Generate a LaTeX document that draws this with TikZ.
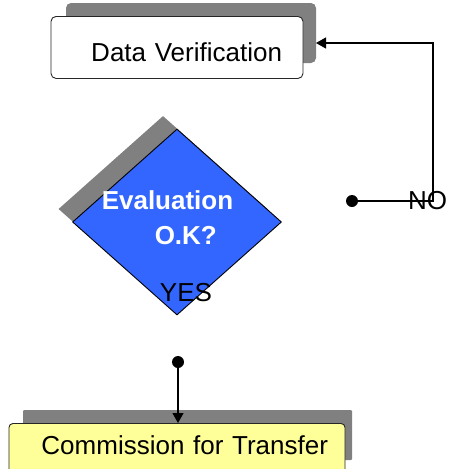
\documentclass[tikz,border=0pt]{standalone}
\usepackage{fontspec}
\setmainfont{Liberation Sans}
\usetikzlibrary{arrows.meta,shapes.geometric,positioning}
\definecolor{shadowgray}{RGB}{128,128,128}
\definecolor{evalblue}{RGB}{51,102,255}
\definecolor{boxyellow}{RGB}{255,255,153}
\tikzset{
    task/.style={
           rectangle,
           rounded corners=5pt,
           draw=black!85, line width=0.9pt,
           inner ysep=0pt,
           align=right,
           anchor=north,
           font=\fontsize{26}{30}\selectfont,
           },
    taskshadow/.style={
           rectangle,
           rounded corners=5pt,
           fill=shadowgray,
           inner sep=0pt,
           },
    decision/.style={
           diamond,
           draw=black, line width=0.9pt,
           fill=evalblue,
           minimum width=209pt,
           minimum height=186pt,
           inner sep=0pt,
           },
    decisionshadow/.style={
           diamond,
           fill=shadowgray,
           minimum width=209pt,
           minimum height=186pt,
           inner sep=0pt,
           },
    joint/.style={circle, fill=black, inner sep=0pt, minimum size=12pt},
    answer/.style={inner sep=0pt, font=\fontsize{26}{30}\selectfont},
    flow/.style={-{Triangle[length=10pt,width=11pt]}, line width=1.2pt},
}

\begin{document}
\begin{tikzpicture}[x=1pt,y=-1pt]
      \useasboundingbox (0,0) rectangle (448,469);
      \clip (0,0) rectangle (448,469);

      % SHADOWS (drawn first, behind the boxes)
      \node[taskshadow,
          minimum width=250pt,
          minimum height=60pt] (dvshadow) at (191,33) {};
      \node[decisionshadow] (evalshadow) at (163,209) {};
      \node[taskshadow,
          rounded corners=1pt,
          minimum width=329pt,
          minimum height=50pt] (ctshadow) at (187.5,435) {};

      % BOX DATA VERIFICATION
      \node[task,
          fill=white,
          text width=210pt,
          inner xsep=21pt,
          text height=45pt,
          text depth=17pt] (dvbox) at (177,16)
      {Data Verification};

      % DECISION EVALUATION
      \node[decision] (evalbox) at (177,222) {};
      \node[answer,
          align=left,
          text=white,
          font=\fontsize{26}{35}\selectfont\bfseries] (evaltext) at (167.5,217.5)
      {Evaluation\\\hspace*{53pt}O.K?};
      \node[answer] (yestext) at (186,293) {YES};

      % BOX COMMISSION FOR TRANSFER
      \node[task,
          fill=boxyellow,
          rounded corners=4pt,
          text width=302pt,
          inner xsep=17pt,
          text height=31pt,
          text depth=30pt] (ctbox) at (177,423)
      {Commission for Transfer};

      % branch points
      \node[joint] (nojoint) at (352,201) {};
      \node[joint] (yesjoint) at (178,362) {};
      \coordinate (noturn) at (433,201);
      \coordinate (dvin) at (316,43);

      % connectors
      \draw[flow] (nojoint) -- (noturn) |- (dvin);
      \draw[flow] (yesjoint) -- (ctbox.north -| yesjoint);
      \node[answer] (notext) at (427.5,201) {NO};

\end{tikzpicture}
\end{document}
